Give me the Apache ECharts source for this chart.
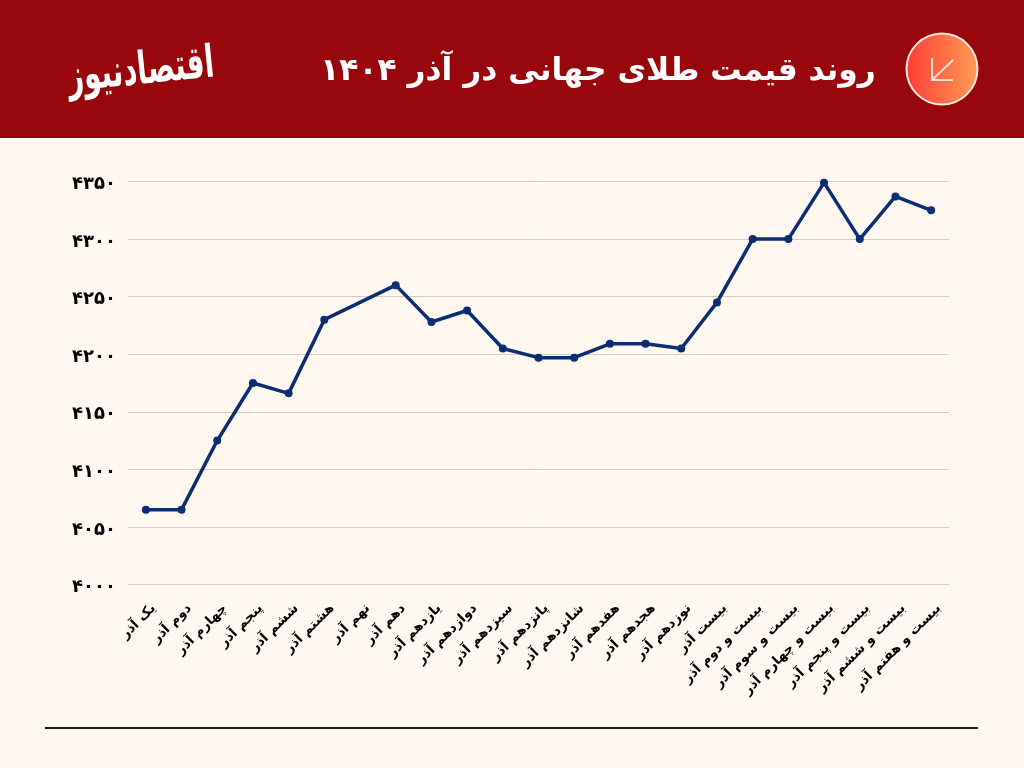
<!DOCTYPE html>
<html lang="fa">
<head>
<meta charset="utf-8">
<title>روند قیمت طلای جهانی</title>
<script src="https://cdn.jsdelivr.net/npm/echarts@6/dist/echarts.min.js"></script>
<style>
  html, body { margin: 0; padding: 0; background: #fef8f1; }
  #chart { width: 1024px; height: 768px; }
</style>
</head>
<body>
<div id="chart"></div>
<script>
const titleText = "روند قیمت طلای جهانی در آذر ۱۴۰۴";
const logoText = "اقتصادنیوز";

const categories = [
  "یک آذر", "دوم آذر", "چهارم آذر", "پنجم آذر", "ششم آذر", "هشتم آذر",
  "نهم آذر", "دهم آذر", "یازدهم آذر", "دوازدهم آذر", "سیزدهم آذر", "پانزدهم آذر",
  "شانزدهم آذر", "هفدهم آذر", "هجدهم آذر", "نوزدهم آذر", "بیست آذر", "بیست و دوم آذر",
  "بیست و سوم آذر", "بیست و چهارم آذر", "بیست و پنجم آذر", "بیست و ششم آذر", "بیست و هفتم آذر"
];

// no marker on the ninth, the line just runs through
const goldPrice = [
  4065, 4065, 4125, 4175, 4166, 4230,
  null, 4260, 4228, 4238, 4205, 4197,
  4197, 4209, 4209, 4205, 4245, 4300,
  4300, 4349, 4300, 4337, 4325
];

const yTicks = [4000, 4050, 4100, 4150, 4200, 4250, 4300, 4350];
const yTickLabels = ["۴۰۰۰", "۴۰۵۰", "۴۱۰۰", "۴۱۵۰", "۴۲۰۰", "۴۲۵۰", "۴۳۰۰", "۴۳۵۰"];

const fontFamily = '"DejaVu Sans", sans-serif';

const chart = echarts.init(document.getElementById("chart"));

chart.setOption({
  backgroundColor: "#fef8f1",
  animation: false,
  grid: { left: 128, right: 75, top: 181.5, bottom: 183.5 },
  xAxis: {
    type: "category",
    data: categories,
    axisLine: { show: false },
    axisTick: { show: false },
    axisLabel: {
      interval: 0,
      rotate: 45,
      margin: 14,
      verticalAlign: "top",
      lineHeight: 22,
      color: "#000000",
      fontFamily,
      fontWeight: "bold",
      fontSize: 13.5,
    },
  },
  yAxis: {
    type: "value",
    min: 4000,
    max: 4350,
    interval: 50,
    axisLine: { show: false },
    axisTick: { show: false },
    splitLine: { lineStyle: { color: "#d3cbc4", width: 1 } },
    axisLabel: {
      margin: 12,
      verticalAlign: "top",
      lineHeight: 6,
      color: "#000000",
      fontFamily,
      fontWeight: "bold",
      fontSize: 18,
      formatter: (value) => yTickLabels[yTicks.indexOf(value)],
    },
  },
  series: [
    {
      type: "line",
      data: goldPrice,
      connectNulls: true,
      symbol: "circle",
      symbolSize: 8,
      lineStyle: { color: "#0b2d72", width: 3.5 },
      itemStyle: { color: "#0b2d72" },
    },
  ],
  graphic: [
    // header band
    {
      type: "rect",
      z: -1,
      shape: { x: 0, y: 0, width: 1024, height: 138 },
      style: { fill: "#98070b" },
    },
    {
      type: "text",
      style: {
        x: 598,
        y: 72,
        text: titleText,
        fill: "#ffffff",
        font: 'bold 31.3px ' + fontFamily,
        textAlign: "center",
        textVerticalAlign: "middle",
      },
    },
    {
      type: "text",
      rotation: 0.1,
      x: 141,
      y: 72,
      scaleX: 0.93,
      scaleY: 1.5,
      style: {
        text: logoText,
        fill: "#ffffff",
        font: 'bold 30px ' + fontFamily,
        textAlign: "center",
        textVerticalAlign: "middle",
      },
    },
    // round arrow badge
    {
      type: "circle",
      shape: { cx: 942, cy: 69, r: 35.5 },
      style: {
        stroke: "#ffe9dc",
        lineWidth: 2,
        fill: {
          type: "linear",
          x: 0, y: 0, x2: 1, y2: 0,
          colorStops: [
            { offset: 0, color: "#ff3c34" },
            { offset: 1, color: "#ff9c57" },
          ],
        },
      },
    },
    {
      type: "polyline",
      shape: { points: [[932, 58], [932, 80], [953, 80]] },
      style: { stroke: "#ffe3d4", lineWidth: 2, fill: "none" },
    },
    {
      type: "line",
      shape: { x1: 932, y1: 80, x2: 953, y2: 60 },
      style: { stroke: "#ffe3d4", lineWidth: 2 },
    },
    // rule under the chart
    {
      type: "line",
      shape: { x1: 45, y1: 728, x2: 978, y2: 728 },
      style: { stroke: "#1a1a1a", lineWidth: 2 },
    },
  ],
});
</script>
</body>
</html>
